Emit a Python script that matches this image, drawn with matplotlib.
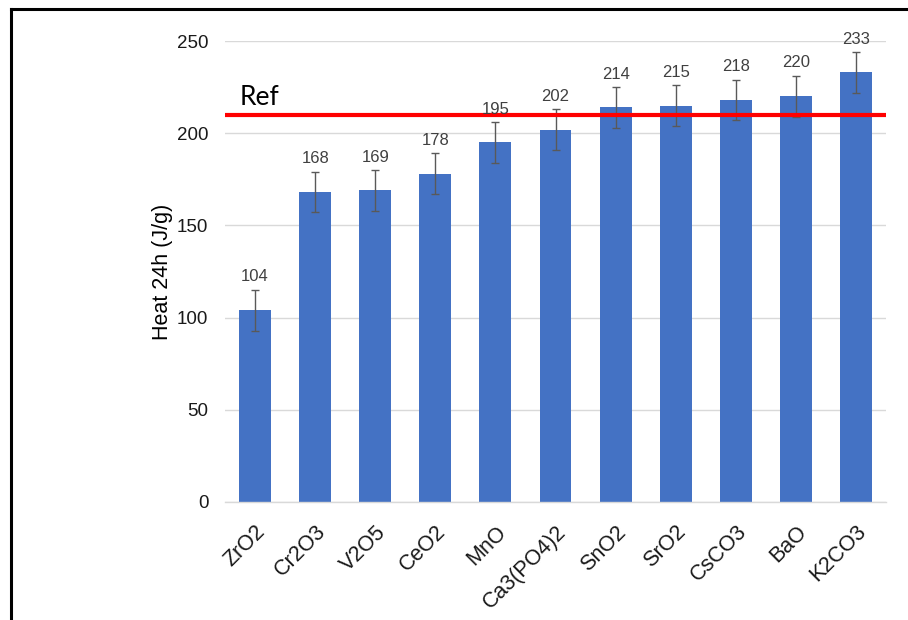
import matplotlib
matplotlib.use("Agg")
import matplotlib.pyplot as plt
from matplotlib.lines import Line2D

categories = ["ZrO2", "Cr2O3", "V2O5", "CeO2", "MnO", "Ca3(PO4)2", "SnO2", "SrO2", "CsCO3", "BaO", "K2CO3"]
values = [104, 168, 169, 178, 195, 202, 214, 215, 218, 220, 233]
errors = [11, 11, 11, 11, 11, 11, 11, 11, 11, 11, 11]
ref_value = 210
ref_label = "Ref"
y_ticks = [0, 50, 100, 150, 200, 250]
y_label = "Heat 24h (J/g)"

W, H = 908, 620
fig = plt.figure(figsize=(W / 100, H / 100), dpi=100)
ax = fig.add_axes([225 / W, 1 - 502 / H, (886 - 225) / W, (502 - 41) / H])

font = ["Liberation Sans", "DejaVu Sans"]
x = list(range(len(categories)))
ax.bar(x, values, width=0.53, color="#4472C4", zorder=2)
ax.errorbar(x, values, yerr=errors, fmt="none", ecolor="#595959", elinewidth=1,
            capsize=3, capthick=1, zorder=3)
for xi, v, e in zip(x, values, errors):
    ax.annotate(str(v), (xi, v + e), xytext=(0, 4), textcoords="offset points",
                ha="center", va="bottom", fontsize=12, color="#404040", family=font, zorder=4)

ax.axhline(ref_value, color="#FF0000", linewidth=3, zorder=3)
ax.text(-0.25, ref_value + 2.5, ref_label, fontsize=19, family=["Lato", "DejaVu Sans"],
        color="black", ha="left", va="bottom")

ax.set_xlim(-0.5, len(categories) - 0.5)
ax.set_ylim(0, 250)
ax.set_yticks(y_ticks)
ax.set_yticklabels([str(t) for t in y_ticks], fontsize=13.5, family=font, color="#1a1a1a")
ax.set_xticks(x)
ax.set_xticklabels(categories, rotation=45, ha="right", rotation_mode="anchor",
                   fontsize=15.5, family=font, color="#1a1a1a")
ax.tick_params(axis="both", length=0)
ax.tick_params(axis="y", pad=12)
ax.tick_params(axis="x", pad=14)
ax.grid(axis="y", color="#D9D9D9", linewidth=1, zorder=0)
ax.set_axisbelow(True)
for s in ["top", "right", "left"]:
    ax.spines[s].set_visible(False)
ax.spines["bottom"].set_color("#D9D9D9")
ax.spines["bottom"].set_linewidth(1)
ax.set_ylabel(y_label, fontsize=15.5, family=font, color="black", labelpad=3)

# outer frame (top and left edges visible)
fig.add_artist(Line2D([11 / W, 1.0], [1 - 9 / H, 1 - 9 / H], color="black", linewidth=2.2,
                      transform=fig.transFigure))
fig.add_artist(Line2D([11 / W, 11 / W], [1 - 9 / H, 0.0], color="black", linewidth=2.2,
                      transform=fig.transFigure))

fig.savefig("out.png", dpi=100, facecolor="white")
